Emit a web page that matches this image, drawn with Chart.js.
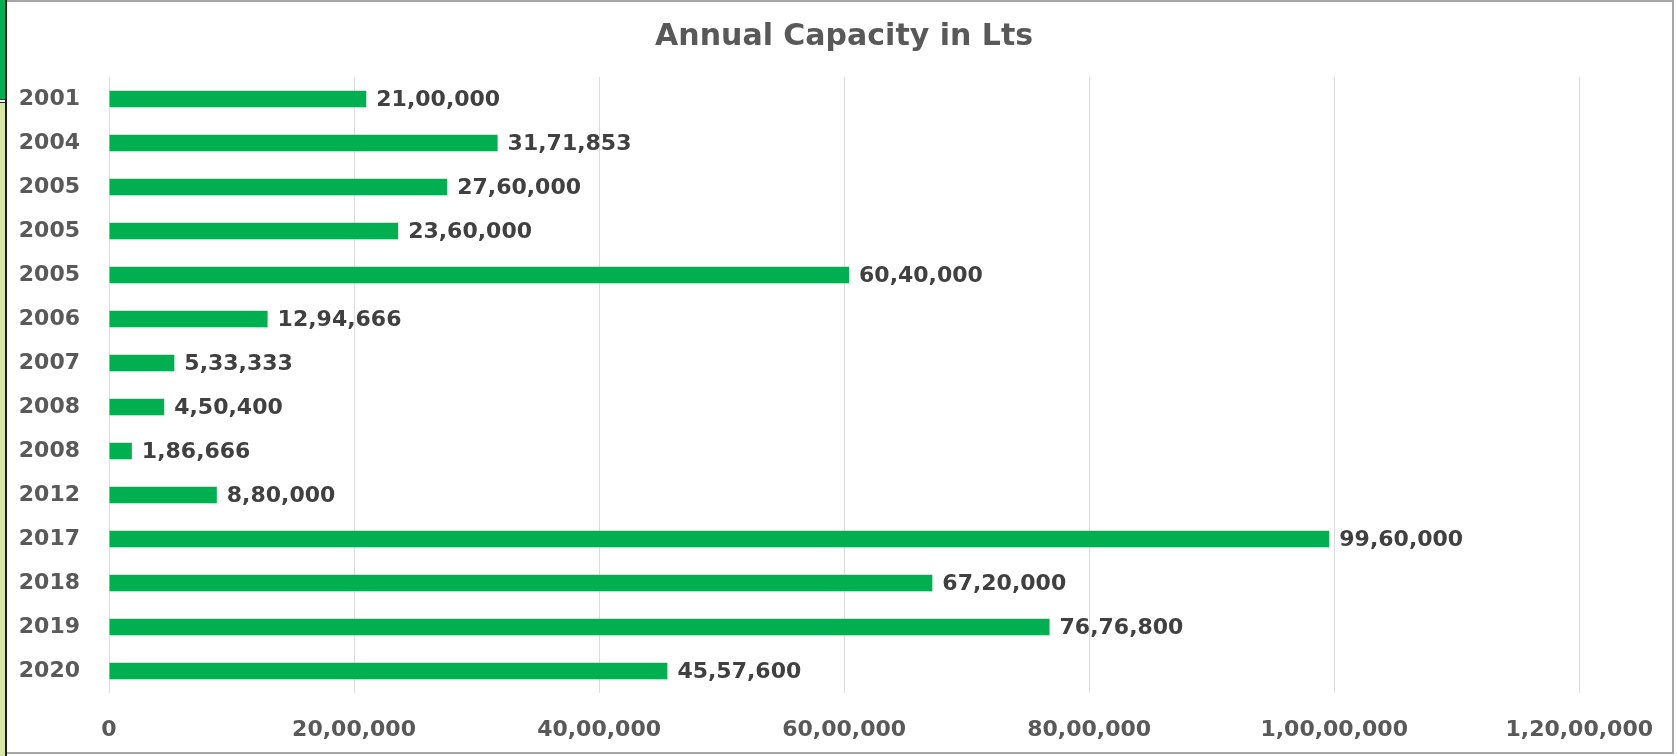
<!DOCTYPE html>
<html>
<head>
<meta charset="utf-8">
<script src="https://cdn.jsdelivr.net/npm/chart.js@4.4.1/dist/chart.umd.min.js"></script>
<style>
  html, body { margin: 0; padding: 0; background: #ffffff; }
  #wrap { position: relative; width: 1677px; height: 756px; overflow: hidden; }
  #c { position: absolute; left: 0; top: 0; }
  .deco { position: absolute; pointer-events: none; }
</style>
</head>
<body>
<div id="wrap">
  <canvas id="c" width="1677" height="756"></canvas>
  <div class="deco" style="left:7px;top:0;width:1665px;height:750px;border:2px solid #a6a6a6;border-left:none;"></div>
  <div class="deco" style="left:0;top:0;width:5px;height:99px;background:#00b050;"></div>
  <div class="deco" style="left:0;top:99px;width:6px;height:1px;background:#222;"></div>
  <div class="deco" style="left:0;top:102px;width:6px;height:1px;background:#222;"></div>
  <div class="deco" style="left:0;top:103px;width:5px;height:653px;background:#d8e8a4;"></div>
  <div class="deco" style="left:5px;top:0;width:2px;height:756px;background:#1a1a1a;"></div>
</div>
<script>
const categories = ["2001","2004","2005","2005","2005","2006","2007","2008","2008","2012","2017","2018","2019","2020"];
const capacity = [2100000, 3171853, 2760000, 2360000, 6040000, 1294666, 533333, 450400, 186666, 880000, 9960000, 6720000, 7676800, 4557600];
const xTickValues = [0, 2000000, 4000000, 6000000, 8000000, 10000000, 12000000];
const titleText = "Annual Capacity in Lts";

function indianFormat(n) {
  const s = String(Math.round(n));
  if (s.length <= 3) return s;
  const last3 = s.slice(-3);
  let rest = s.slice(0, -3);
  const parts = [];
  while (rest.length > 2) { parts.unshift(rest.slice(-2)); rest = rest.slice(0, -2); }
  if (rest.length) parts.unshift(rest);
  return parts.join(",") + "," + last3;
}

const FONT = "'DejaVu Sans', sans-serif";

const valueLabels = {
  id: "valueLabels",
  afterDatasetsDraw(chart) {
    const ctx = chart.ctx;
    const meta = chart.getDatasetMeta(0);
    ctx.save();
    ctx.font = "bold 22px " + FONT;
    ctx.fillStyle = "#404040";
    ctx.textAlign = "left";
    ctx.textBaseline = "middle";
    meta.data.forEach((bar, i) => {
      ctx.fillText(indianFormat(capacity[i]), bar.x + 10, bar.y + 1);
    });
    ctx.restore();
  }
};

new Chart(document.getElementById("c"), {
  type: "bar",
  data: {
    labels: categories,
    datasets: [{
      data: capacity,
      backgroundColor: "#00b050",
      borderWidth: 0,
      barPercentage: 0.37,
      categoryPercentage: 1.0
    }]
  },
  options: {
    indexAxis: "y",
    responsive: false,
    animation: false,
    devicePixelRatio: 1,
    layout: { padding: { left: 0, right: 95, top: 0, bottom: 0 } },
    plugins: {
      legend: { display: false },
      tooltip: { enabled: false },
      title: {
        display: true,
        fullSize: false,
        text: titleText,
        color: "#595959",
        font: { family: FONT, size: 30, weight: "bold" },
        padding: { top: 19, bottom: 22 }
      }
    },
    scales: {
      x: {
        type: "linear",
        min: 0,
        max: 12000000,
        afterBuildTicks(scale) { scale.ticks = xTickValues.map(v => ({ value: v })); },
        afterFit(scale) { scale.height = 63; },
        grid: { color: "#dcdcdc", lineWidth: 1, drawTicks: false },
        border: { display: false },
        ticks: {
          padding: 24,
          color: "#595959",
          font: { family: FONT, size: 22, weight: "bold" },
          maxRotation: 0,
          autoSkip: false,
          callback: (v) => indianFormat(v)
        }
      },
      y: {
        afterFit(scale) { scale.width = 109; },
        grid: { display: false, drawTicks: false },
        border: { display: false },
        ticks: {
          padding: 29,
          color: "#595959",
          font: { family: FONT, size: 22, weight: "bold" },
          autoSkip: false
        }
      }
    }
  },
  plugins: [valueLabels]
});
</script>
</body>
</html>
